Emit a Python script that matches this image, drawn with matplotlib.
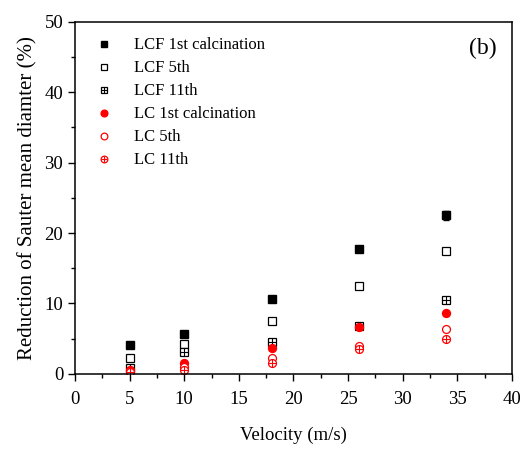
import numpy as np
import matplotlib
matplotlib.use("Agg")
import matplotlib.pyplot as plt
from matplotlib.ticker import MultipleLocator

plt.rcParams["font.family"] = ["Liberation Serif", "DejaVu Serif"]

velocity = [5, 10, 18, 26, 34]
lcf_1st = [4.15, 5.7, 10.6, 17.7, 22.5]
lcf_1st_err = [0.2, 0.2, 0.3, 0.4, 0.6]
lcf_5th = [2.2, 4.2, 7.5, 12.5, 17.5]
lcf_11th = [0.9, 3.1, 4.5, 6.8, 10.5]
lc_1st = [0.6, 1.6, 3.7, 6.6, 8.7]
lc_5th = [0.4, 1.0, 2.2, 4.0, 6.4]
lc_11th = [0.3, 0.6, 1.6, 3.5, 5.0]

fig = plt.figure(figsize=(5.3, 4.5), dpi=100)
ax = fig.add_axes([0.1415, 0.169, 0.8245, 0.783])

ms = 5.2
red = "#ff0000"

ax.errorbar(velocity, lcf_1st, yerr=lcf_1st_err, fmt="none", ecolor="k",
            elinewidth=0.8, capsize=2.5)
h1, = ax.plot(velocity, lcf_1st, "s", color="k", ms=ms, ls="none")
h2, = ax.plot(velocity, lcf_5th, "s", mfc="white", mec="k", mew=0.9, ms=ms, ls="none")
h3a, = ax.plot(velocity, lcf_11th, "s", mfc="white", mec="k", mew=0.9, ms=ms, ls="none")
h3b, = ax.plot(velocity, lcf_11th, "+", color="k", mew=0.8, ms=ms, ls="none")
h4, = ax.plot(velocity, lc_1st, "o", color=red, ms=ms + 0.5, ls="none")
h5, = ax.plot(velocity, lc_5th, "o", mfc="white", mec=red, mew=0.9, ms=ms + 0.5, ls="none")
h6a, = ax.plot(velocity, lc_11th, "o", mfc="white", mec=red, mew=0.9, ms=ms + 0.5, ls="none")
h6b, = ax.plot(velocity, lc_11th, "+", color=red, mew=0.8, ms=ms + 0.5, ls="none")

ax.legend([h1, h2, (h3a, h3b), h4, h5, (h6a, h6b)],
          ["LCF 1st calcination", "LCF 5th", "LCF 11th",
           "LC 1st calcination", "LC 5th", "LC 11th"],
          loc="upper left", frameon=False, fontsize=12, markerscale=0.85,
          handletextpad=1.0, labelspacing=0.42, borderaxespad=0.55,
          handlelength=1.6)

ax.text(0.965, 0.955, "(b)", transform=ax.transAxes, ha="right", va="top",
        fontsize=17)

ax.set_xlim(0, 40)
ax.set_ylim(0, 50)
ax.xaxis.set_major_locator(MultipleLocator(5))
ax.xaxis.set_minor_locator(MultipleLocator(2.5))
ax.yaxis.set_major_locator(MultipleLocator(10))
ax.yaxis.set_minor_locator(MultipleLocator(5))
ax.tick_params(which="major", direction="out", length=5, width=1, labelsize=13.5)
ax.tick_params(axis="x", which="major", pad=7)
ax.tick_params(which="minor", direction="out", length=3, width=1)
ax.tick_params(top=False, right=False)
for s in ax.spines.values():
    s.set_linewidth(1.1)

ax.set_xlabel("Velocity (m/s)", fontsize=13.5, labelpad=14)
ax.set_ylabel("Reduction of Sauter mean diamter (%)", fontsize=15, labelpad=5)

fig.savefig("out.png", dpi=100)
